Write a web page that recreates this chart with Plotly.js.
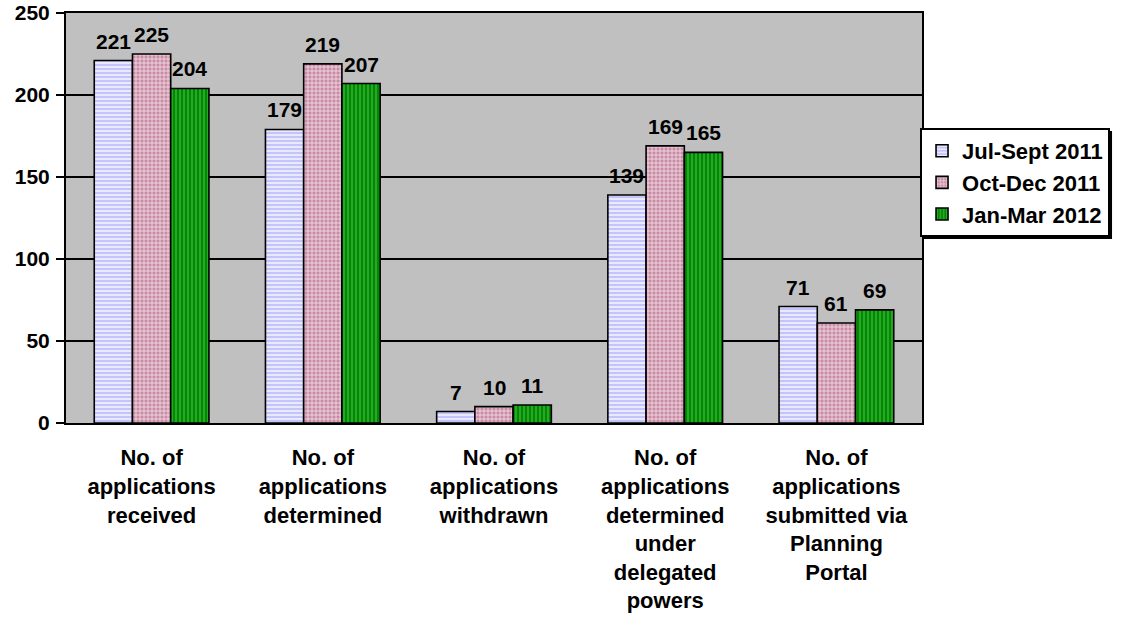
<!DOCTYPE html>
<html>
<head>
<meta charset="utf-8">
<script src="https://cdn.plot.ly/plotly-3.0.1.min.js"></script>
<style>html,body{margin:0;padding:0;background:#fff;}#chart{width:1123px;height:626px;}</style>
</head>
<body>
<div id="chart"></div>
<script>
var categories = [
  "No. of<br>applications<br>received",
  "No. of<br>applications<br>determined",
  "No. of<br>applications<br>withdrawn",
  "No. of<br>applications<br>determined<br>under<br>delegated<br>powers",
  "No. of<br>applications<br>submitted via<br>Planning<br>Portal"
];
var seriesNames = ["Jul-Sept 2011", "Oct-Dec 2011", "Jan-Mar 2012"];
var julSept2011 = [221, 179, 7, 139, 71];
var octDec2011 = [225, 219, 10, 169, 61];
var janMar2012 = [204, 207, 11, 165, 69];
var yTicks = [0, 50, 100, 150, 200, 250];

var seriesValues = [julSept2011, octDec2011, janMar2012];
var patterns = [
  {shape: "-", bgcolor: "#c4c4fa", fgcolor: "#ececff", size: 4, solidity: 0.45},
  {shape: "+", bgcolor: "#c98aa3", fgcolor: "#f4e4ea", size: 4, solidity: 0.35},
  {shape: "|", bgcolor: "#008a00", fgcolor: "#3cb43c", size: 4, solidity: 0.35}
];
var FONT = "Liberation Sans, Arial, sans-serif";
var bargap = 0.33;
var nS = seriesValues.length;
var barW = (1 - bargap) / nS;

var traces = seriesValues.map(function (vals, i) {
  return {
    type: "bar",
    name: seriesNames[i],
    x: categories.map(function (c, j) { return j; }),
    y: vals,
    marker: {
      color: patterns[i].bgcolor,
      line: {color: "#000", width: 1.6},
      pattern: patterns[i]
    },
    hoverinfo: "y+name"
  };
});

var annotations = [];
seriesValues.forEach(function (vals, i) {
  vals.forEach(function (v, j) {
    annotations.push({
      x: j + (i - (nS - 1) / 2) * barW,
      y: v,
      xref: "x", yref: "y",
      text: String(v),
      showarrow: false,
      yanchor: "bottom",
      yshift: 6,
      font: {family: FONT, size: 21, color: "#000", weight: 700}
    });
  });
});

var layout = {
  width: 1123, height: 626,
  margin: {l: 66, r: 201, t: 13, b: 203, pad: 0},
  paper_bgcolor: "#ffffff",
  plot_bgcolor: "#c0c0c0",
  barmode: "group",
  bargap: bargap,
  bargroupgap: 0,
  font: {family: FONT, color: "#000", weight: 700},
  showlegend: true,
  xaxis: {
    type: "linear",
    range: [-0.5, categories.length - 0.5],
    tickmode: "array",
    tickvals: categories.map(function (c, j) { return j; }),
    ticktext: categories,
    showgrid: false,
    zeroline: false,
    ticks: "",
    showline: true, linecolor: "#000", linewidth: 2, mirror: true,
    tickfont: {family: FONT, size: 22, color: "#000", weight: 700},
    ticklabelstandoff: 14,
    fixedrange: true
  },
  yaxis: {
    range: [0, 250],
    tickmode: "array",
    tickvals: yTicks,
    ticktext: yTicks.map(String),
    showgrid: true, gridcolor: "#000", gridwidth: 1.5,
    zeroline: false,
    ticks: "outside", ticklen: 8, tickwidth: 2, tickcolor: "#000",
    showline: true, linecolor: "#000", linewidth: 2, mirror: true,
    tickfont: {family: FONT, size: 21, color: "#000", weight: 700},
    ticklabelstandoff: 2,
    fixedrange: true
  },
  legend: {
    x: 0.9977, xanchor: "left",
    y: 0.7195, yanchor: "top",
    bgcolor: "#ffffff",
    bordercolor: "#000", borderwidth: 2,
    font: {family: FONT, size: 22, color: "#000", weight: 700},
    traceorder: "normal"
  },
  shapes: [{
    type: "rect", xref: "paper", yref: "paper", layer: "above",
    x0: 1.0012, x1: 1.222, y0: 0.4488, y1: 0.7122,
    fillcolor: "#000", line: {width: 0}
  }],
  annotations: annotations
};

Plotly.newPlot("chart", traces, layout, {displayModeBar: false, staticPlot: true});
</script>
</body>
</html>
